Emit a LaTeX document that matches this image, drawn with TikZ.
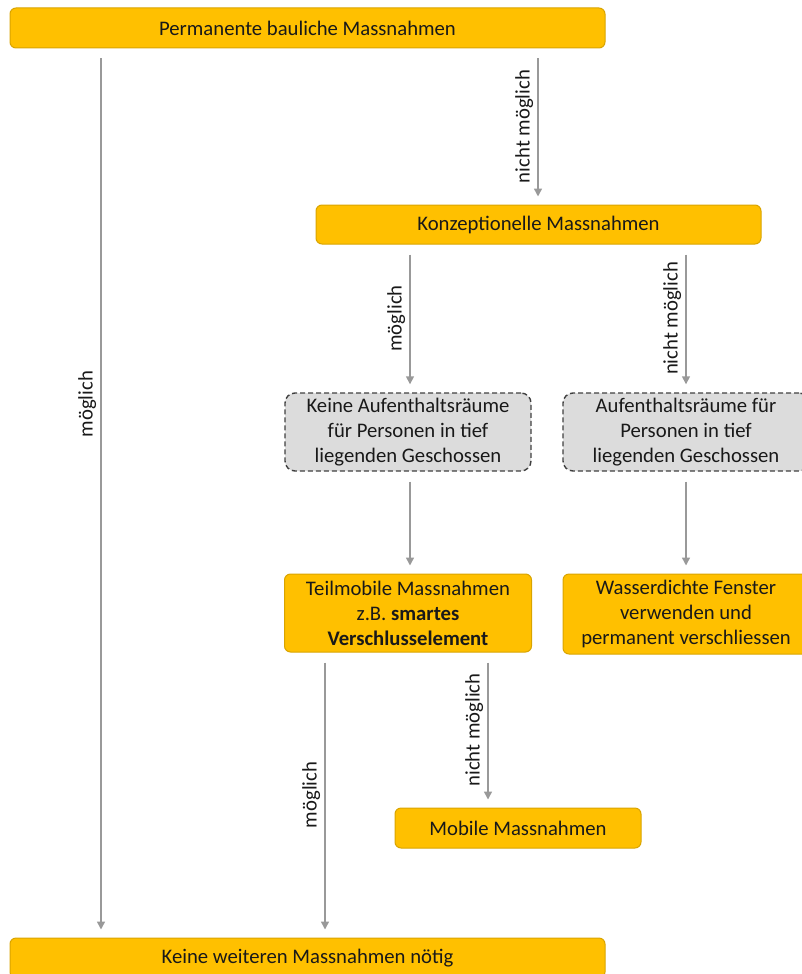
\documentclass[tikz,border=0pt]{standalone}
\usepackage{fontspec}
\setmainfont{Carlito}
\usetikzlibrary{arrows.meta}
\definecolor{boxgold}{HTML}{FFC000}
\definecolor{boxedge}{HTML}{D9A400}
\definecolor{boxgray}{HTML}{DCDCDC}
\definecolor{linegray}{HTML}{999999}
\tikzset{
  goldbox/.style={draw=boxedge, fill=boxgold, rounded corners=6pt, line width=1pt, align=center,
    text=black!90, minimum height=40pt, inner sep=0pt},
  graybox/.style={draw=black!75, fill=boxgray, dash pattern=on 5pt off 3pt, rounded corners=10pt,
    line width=1.4pt, align=center, text=black!90, minimum height=78pt, minimum width=246pt, inner sep=0pt},
  arr/.style={draw=linegray, line width=1.5pt, -{Triangle[length=8pt,width=8pt]},
    shorten <=10pt, shorten >=8pt},
  lab/.style={rotate=90, anchor=south, inner sep=4pt, text=black!90}
}
\begin{document}
\begin{tikzpicture}[x=1pt, y=-1pt, font=\fontsize{20.7}{25}\selectfont]
\useasboundingbox (0,0) rectangle (802,974);
\node[goldbox, minimum width=595pt] (perm) at (307.5,28) {Permanente bauliche Massnahmen};
\node[goldbox, minimum width=445pt, minimum height=39pt] (konz) at (538.5,224.5) {Konzeptionelle Massnahmen};
\node[graybox] (keineauf) at (408,432) {Keine Aufenthaltsräume\\für Personen in tief\\liegenden Geschossen};
\node[graybox] (auf) at (686,432) {Aufenthaltsräume für\\Personen in tief\\liegenden Geschossen};
\node[goldbox, minimum width=247pt, minimum height=78pt] (teil) at (408,613) {Teilmobile Massnahmen\\z.B. \textbf{smartes}\\\textbf{Verschlusselement}};
\node[goldbox, minimum width=246pt, minimum height=80pt] (wasser) at (686,614) {Wasserdichte Fenster\\verwenden und\\permanent verschliessen};
\node[goldbox, minimum width=246pt] (mobil) at (518,828) {Mobile Massnahmen};
\node[goldbox, minimum width=595pt] (keine) at (307.5,958) {Keine weiteren Massnahmen nötig};
% x positions of the arrows
\coordinate (xa) at (101,0);
\coordinate (xb) at (538,0);
\coordinate (xc) at (410,0);
\coordinate (xd) at (686,0);
\coordinate (xe) at (325,0);
\coordinate (xf) at (488,0);
\draw[arr] (perm.south -| xa) -- node[lab, pos=.4]{möglich} (keine.north -| xa);
\draw[arr] (perm.south -| xb) -- node[lab, midway]{nicht möglich} (konz.north -| xb);
\draw[arr] (konz.south -| xc) -- node[lab, midway]{möglich} (keineauf.north -| xc);
\draw[arr] (konz.south -| xd) -- node[lab, midway]{nicht möglich} (auf.north -| xd);
\draw[arr] (keineauf.south -| xc) -- (teil.north -| xc);
\draw[arr] (auf.south -| xd) -- (wasser.north -| xd);
\draw[arr] (teil.south -| xe) -- node[lab, midway]{möglich} (keine.north -| xe);
\draw[arr] (teil.south -| xf) -- node[lab, midway]{nicht möglich} (mobil.north -| xf);
\end{tikzpicture}
\end{document}
